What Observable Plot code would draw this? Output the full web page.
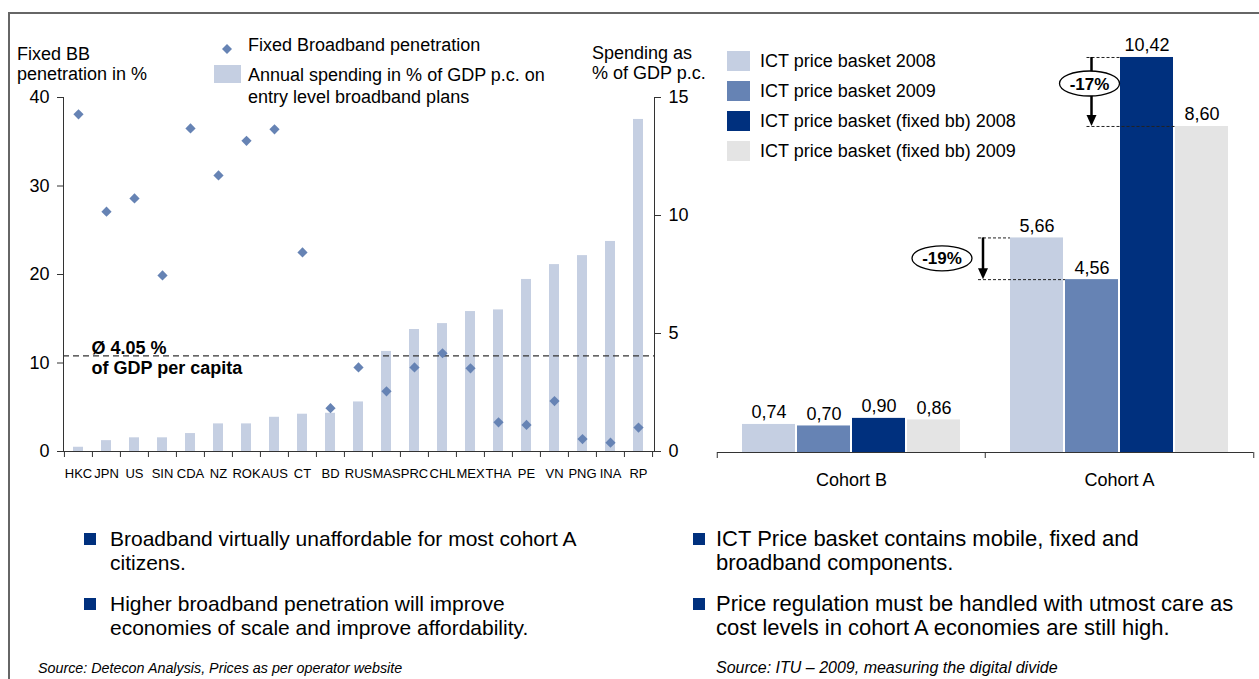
<!DOCTYPE html>
<html><head><meta charset="utf-8">
<script src="https://cdn.jsdelivr.net/npm/d3@7"></script>
<script src="https://cdn.jsdelivr.net/npm/@observablehq/plot@0.6"></script>
<style>
body{margin:0;background:#fff;}
#wrap{position:relative;width:1259px;height:679px;overflow:hidden;font-family:"Liberation Sans",Arial,sans-serif;color:#000;background:#fff;}
.abs{position:absolute;white-space:nowrap;}
.holder{position:absolute;}
</style></head><body><div id="wrap"></div>
<script>
// ---------- data ----------
const countries = ["HKC","JPN","US","SIN","CDA","NZ","ROK","AUS","CT","BD","RUS","MAS","PRC","CHL","MEX","THA","PE","VN","PNG","INA","RP"];
const spending = [0.18,0.46,0.58,0.58,0.76,1.17,1.17,1.45,1.58,1.62,2.1,4.24,5.17,5.42,5.93,6.0,7.29,7.92,8.3,8.9,14.07];
const penetration = [38.1,27.1,28.6,19.9,36.5,31.2,35.1,36.4,22.5,4.9,9.5,6.8,9.5,11.1,9.4,3.3,3.0,5.7,1.4,1.0,2.7];
const avgSpending = 4.05;
const penTicks = [0,10,20,30,40];
const spendTicks = [0,5,10,15];

const cohorts = ["Cohort B","Cohort A"];
const series = ["ICT price basket 2008","ICT price basket 2009","ICT price basket (fixed bb) 2008","ICT price basket (fixed bb) 2009"];
const cohortB = [0.74,0.70,0.90,0.86];
const cohortA = [5.66,4.56,10.42,8.60];
const seriesColors = ["#c5cfe2","#6683b4","#00307e","#e4e4e4"];

const wrap = document.getElementById("wrap");
const FONT = "Liberation Sans, Arial, sans-serif";

// ---------- left chart ----------
const leftData = countries.map((c,i)=>({c, s: spending[i], p: penetration[i]}));
const W1 = 680, H1 = 490, mL1 = 63, mR1 = 26;
const step1 = (W1 - mL1 - mR1) / countries.length;
const penMax = penTicks[penTicks.length-1], spendMax = spendTicks[spendTicks.length-1];
const toSpend = v => v * spendMax / penMax;

const left = Plot.plot({
  width: W1, height: H1, marginLeft: mL1, marginRight: mR1, marginTop: 97, marginBottom: 39,
  style: {fontFamily: FONT, fontSize: "18px", color: "#000", background: "transparent", overflow: "visible"},
  x: {domain: countries, paddingInner: 0.64, paddingOuter: 0.32, label: null},
  y: {domain: [0, spendMax], label: null},
  marks: [
    Plot.barY(leftData, {x: "c", y: "s", fill: "#c5cfe2"}),
    Plot.ruleY([avgSpending], {stroke: "#333", strokeDasharray: "6,4", strokeWidth: 1.3}),
    Plot.text([avgSpending], {x: () => countries[0], y: d => d, text: d => `Ø ${d.toFixed(2)} %`, textAnchor: "start", dx: 13, dy: -8, fontWeight: "bold", fontSize: 18}),
    Plot.text([avgSpending], {x: () => countries[0], y: d => d, text: () => "of GDP per capita", textAnchor: "start", dx: 13, dy: 12, fontWeight: "bold", fontSize: 18}),
    Plot.frame({anchor: "left", stroke: "#333"}),
    Plot.frame({anchor: "right", stroke: "#333"}),
    Plot.ruleY([0], {stroke: "#333"}),
    Plot.axisY({anchor: "left", ticks: penTicks.map(toSpend), tickFormat: d => Math.round(d * penMax / spendMax), tickSize: 6, tickPadding: 8, fontSize: 18, label: null, stroke: "#333"}),
    Plot.axisY({anchor: "right", ticks: spendTicks, tickSize: 6, tickPadding: 8, fontSize: 18, label: null, stroke: "#333"}),
    Plot.axisX({anchor: "bottom", tickSize: 0, tickPadding: 17, fontSize: 13, label: null}),
    Plot.axisX({anchor: "bottom", tickSize: 6, tickFormat: () => "", dx: -step1/2, label: null, stroke: "#333"}),
    Plot.axisX({anchor: "bottom", ticks: [countries[countries.length-1]], tickSize: 6, tickFormat: () => "", dx: step1/2, label: null, stroke: "#333"}),
    Plot.dot(leftData, {x: "c", y: d => toSpend(d.p), symbol: "diamond2", r: 4.6, fill: "#6683b4", stroke: "none"})
  ]
});
const h1 = document.createElement("div"); h1.className = "holder"; h1.style.left = "0px"; h1.style.top = "0px"; h1.style.width = W1 + "px";
h1.appendChild(left); wrap.appendChild(h1);

// ---------- right chart ----------
const rightData = [];
cohorts.forEach((c,i) => series.forEach((s,j) => rightData.push({cohort: c, series: s, value: (i === 0 ? cohortB : cohortA)[j]})));
const W2 = 559, H2 = 490, mL2 = 16, mR2 = 6;
const groupW = (W2 - mL2 - mR2) / cohorts.length;
const fmt = v => d3.format(".2f")(v).replace(".", ",");

const right = Plot.plot({
  width: W2, height: H2, marginLeft: mL2, marginRight: mR2, marginTop: 35, marginBottom: 38,
  style: {fontFamily: FONT, fontSize: "18px", color: "#000", background: "transparent", overflow: "visible"},
  fx: {domain: cohorts, padding: 0, label: null},
  x: {domain: series, paddingInner: 0.036, paddingOuter: 0.418, axis: null, label: null},
  y: {domain: [0, 11], axis: null, label: null},
  color: {domain: series, range: seriesColors},
  marks: [
    Plot.barY(rightData, {fx: "cohort", x: "series", y: "value", fill: "series"}),
    Plot.text(rightData, {fx: "cohort", x: "series", y: "value", text: d => fmt(d.value), lineAnchor: "bottom", dy: -6, fontSize: 18}),
    Plot.ruleY([0], {stroke: "#333"}),
    Plot.axisFx({anchor: "bottom", tickSize: 0, tickPadding: 21, fontSize: 18, label: null}),
    Plot.axisFx({anchor: "bottom", tickSize: 6, tickFormat: () => "", dx: -groupW/2, label: null, stroke: "#333"}),
    Plot.axisFx({anchor: "bottom", ticks: [cohorts[cohorts.length-1]], tickSize: 6, tickFormat: () => "", dx: groupW/2, label: null, stroke: "#333"})
  ]
});
const h2 = document.createElement("div"); h2.className = "holder"; h2.style.left = "700px"; h2.style.top = "0px"; h2.style.width = W2 + "px";
h2.appendChild(right); wrap.appendChild(h2);

// annotations positioned through the chart's scales
(function(){
  const fxS = right.scale("fx"), xS = right.scale("x"), yS = right.scale("y");
  const bw = xS.bandwidth;
  const A = cohorts[1];
  const bx = (c, s) => fxS.apply(c) - mL2 + xS.apply(s);
  const g = d3.select(right).append("g");
  function annotate(arrowX, vTop, vBot, ends, eyOff, exOff){
    const yTop = yS.apply(vTop), yBot = yS.apply(vBot);
    const label = `${Math.round((vBot / vTop - 1) * 100)}%`;
    ends.forEach(([y, xEnd]) => g.append("line").attr("x1", arrowX - 5).attr("x2", xEnd).attr("y1", y + 0.5).attr("y2", y + 0.5)
      .attr("stroke", "#222").attr("stroke-dasharray", "3,2"));
    g.append("line").attr("x1", arrowX).attr("x2", arrowX).attr("y1", yTop).attr("y2", yBot - 9).attr("stroke", "#000").attr("stroke-width", 2.5);
    g.append("path").attr("d", `M${arrowX-5},${yBot-11}L${arrowX+5},${yBot-11}L${arrowX},${yBot}Z`).attr("fill", "#000");
    const cx = arrowX + exOff, cy = (yTop + yBot) / 2 + eyOff;
    g.append("ellipse").attr("cx", cx).attr("cy", cy).attr("rx", 30).attr("ry", 12.5).attr("fill", "#fff").attr("stroke", "#000").attr("stroke-width", 1.3);
    g.append("text").attr("x", cx).attr("y", cy).attr("dy", "0.36em").attr("text-anchor", "middle").attr("font-weight", "bold")
      .attr("font-size", 17).attr("font-family", FONT).text(label);
  }
  // -17 %
  const ax1 = bx(A, series[1]) + bw / 2;
  annotate(ax1, cohortA[2], cohortA[3], [[yS.apply(cohortA[2]), bx(A, series[2])], [yS.apply(cohortA[3]), bx(A, series[3])]], -8, -2);
  // -19 %
  const ax2 = fxS.apply(A) - 2;
  annotate(ax2, cohortA[0], cohortA[1], [[yS.apply(cohortA[0]), bx(A, series[0])], [yS.apply(cohortA[1]), bx(A, series[1])]], 0, -41);
})();

// ---------- HTML text ----------
function addText(x, top, html, css){
  const d = document.createElement("div"); d.className = "abs";
  d.style.left = x + "px"; d.style.top = top + "px";
  Object.assign(d.style, css || {});
  d.innerHTML = html; wrap.appendChild(d); return d;
}
function addBox(x, y, w, h, color){
  const d = document.createElement("div"); d.className = "abs";
  Object.assign(d.style, {left: x + "px", top: y + "px", width: w + "px", height: h + "px", background: color});
  wrap.appendChild(d); return d;
}
// frame
const fr = document.createElement("div"); fr.className = "abs";
Object.assign(fr.style, {left: "8px", top: "12px", width: "1260px", height: "680px", borderTop: "2px solid #666", borderLeft: "2px solid #666"});
wrap.appendChild(fr);

const base = {fontSize: "18px", lineHeight: "20px"};
addText(17, 44, "Fixed BB<br>penetration in %", base);
addText(592, 43, "Spending as<br>% of GDP p.c.", base);

// left legend
const dia = document.createElement("div"); dia.className = "abs";
dia.style.left = "222px"; dia.style.top = "40px";
dia.innerHTML = '<svg width="10" height="10"><polygon points="5,0 10,5 5,10 0,5" fill="#6683b4"/></svg>';
wrap.appendChild(dia);
addText(248, 35, "Fixed Broadband penetration", base);
addBox(214, 65, 27, 18, "#c5cfe2");
addText(248, 64, "Annual spending in % of GDP p.c. on<br>entry level broadband plans", {fontSize: "18px", lineHeight: "22px"});

// right legend
series.forEach((s, i) => {
  addBox(727, 51 + i * 30, 23, 20, seriesColors[i]);
  addText(760, 51 + i * 30, s, base);
});

// bullets
const bulL = {fontSize: "21px", lineHeight: "24px"};
const bulR = {fontSize: "22px", lineHeight: "24px"};
addBox(84, 533, 12, 12, "#00307e");
addText(110, 527, "Broadband virtually unaffordable for most cohort A<br>citizens.", bulL);
addBox(84, 598, 12, 12, "#00307e");
addText(110, 592, "Higher broadband penetration will improve<br>economies of scale and improve affordability.", bulL);
addBox(693, 533, 12, 12, "#00307e");
addText(716, 527, "ICT Price basket contains mobile, fixed and<br>broadband components.", bulR);
addBox(693, 598, 12, 12, "#00307e");
addText(716, 592, "Price regulation must be handled with utmost care as<br>cost levels in cohort A economies are still high.", bulR);

// sources
addText(38, 660, "Source: Detecon Analysis, Prices as per operator website", {fontSize: "14.3px", lineHeight: "16px", fontStyle: "italic"});
addText(716, 660, "Source: ITU – 2009, measuring the digital divide", {fontSize: "16px", lineHeight: "16px", fontStyle: "italic"});
</script>
</body></html>
